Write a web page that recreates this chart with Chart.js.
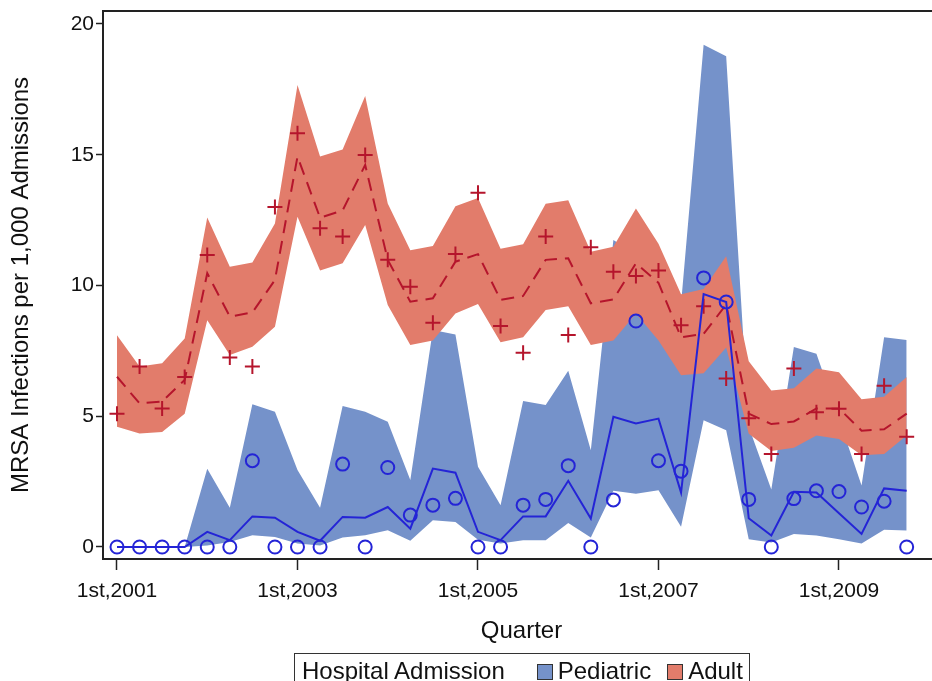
<!DOCTYPE html>
<html>
<head>
<meta charset="utf-8">
<script src="https://cdn.jsdelivr.net/npm/chart.js@4.4.1/dist/chart.umd.min.js"></script>
<style>
  html, body { margin: 0; padding: 0; background: #fff; overflow: hidden; }
  #wrap { position: relative; width: 932px; height: 681px; overflow: hidden; }
  #chart { position: absolute; left: 0; top: 0; }
  #legend {
    position: absolute; left: 294px; top: 653px; width: 456px; height: 40px;
    border: 1.5px solid #333; box-sizing: border-box;
    font-family: "Liberation Sans", Arial, sans-serif; font-size: 24px; line-height: 24px; color: #111;
    display: flex; align-items: flex-start; padding: 5px 0 0 7px; white-space: nowrap;
  }
  #legend .sw { display: inline-block; width: 14px; height: 14px; border: 1.5px solid #333; margin: 5px 5px 0 0; }
</style>
</head>
<body>
<div id="wrap">
  <canvas id="chart" width="940" height="681"></canvas>
  <div id="legend">
    <span style="margin-right:32px">Hospital Admission</span>
    <span class="sw" style="background:#7592CA"></span><span style="margin-right:16px">Pediatric</span>
    <span class="sw" style="background:#E27C6B"></span><span>Adult</span>
  </div>
</div>
<script>
// --- Data (quarter index 0 = 1st quarter 2001 ... 35 = 4th quarter 2009) ---
const tickPos = [0, 8, 16, 24, 32];
const tickLabels = ['1st,2001', '1st,2003', '1st,2005', '1st,2007', '1st,2009'];
const yTicks = [0, 5, 10, 15, 20];

const adultObs = [5.1, 6.9, 5.3, 6.5, 11.17, 7.25, 6.9, 13.0, 15.82, 12.19, 11.87, 14.99,
  10.98, 9.95, 8.58, 11.2, 13.55, 8.45, 7.43, 11.87, 8.11, 11.46, 10.53, 10.36,
  10.57, 8.48, 9.21, 6.44, 4.92, 3.56, 6.83, 5.15, 5.29, 3.56, 6.17, 4.22];
const adultMean = [6.51, 5.49, 5.56, 6.39, 10.47, 8.81, 8.97, 10.21, 14.93, 12.59, 12.87, 14.61,
  10.98, 9.38, 9.51, 10.91, 11.2, 9.45, 9.6, 10.98, 11.04, 9.32, 9.47, 10.85,
  10.1, 8.02, 8.15, 9.27, 5.1, 4.7, 4.8, 5.3, 5.3, 4.45, 4.5, 5.1];
const adultUpper = [8.1, 6.9, 7.03, 7.97, 12.6, 10.72, 10.88, 12.37, 17.67, 14.93, 15.2, 17.25,
  13.14, 11.35, 11.51, 13.03, 13.35, 11.41, 11.58, 13.13, 13.26, 11.29, 11.48, 12.94,
  11.6, 9.67, 9.87, 11.12, 7.1, 5.98, 6.07, 6.83, 6.68, 5.65, 5.75, 6.5];
const adultLower = [4.6, 4.34, 4.4, 5.1, 8.67, 7.34, 7.66, 8.42, 12.63, 10.57, 10.85, 12.31,
  9.25, 7.72, 7.9, 8.93, 9.29, 7.83, 8.02, 9.06, 9.21, 7.72, 7.9, 8.93,
  7.9, 6.57, 6.64, 7.63, 4.33, 3.67, 3.8, 4.26, 4.13, 3.51, 3.56, 4.26];

const pedObs = [0, 0, 0, 0, 0, 0, 3.3, 0, 0, 0, 3.17, 0,
  3.04, 1.22, 1.6, 1.86, 0, 0, 1.6, 1.82, 3.11, 0, 1.8, 8.64,
  3.3, 2.9, 10.29, 9.37, 1.82, 0, 1.85, 2.15, 2.12, 1.53, 1.75, 0];
const pedMean = [0, 0, 0, 0, 0.58, 0.26, 1.17, 1.12, 0.58, 0.24, 1.15, 1.12,
  1.53, 0.7, 3.0, 2.84, 0.58, 0.26, 1.17, 1.17, 2.53, 1.09, 4.98, 4.72,
  4.91, 2.08, 9.67, 9.37, 1.1, 0.44, 2.11, 2.08, 1.29, 0.5, 2.24, 2.15];
const pedUpper = [0, 0, 0, 0, 2.99, 1.5, 5.46, 5.17, 2.94, 1.5, 5.39, 5.17,
  4.79, 2.56, 8.3, 8.13, 3.07, 1.6, 5.58, 5.43, 6.74, 3.7, 11.74, 11.2,
  11.0, 9.3, 19.21, 18.77, 4.6, 2.2, 7.65, 7.39, 4.9, 2.35, 8.02, 7.92];
const pedLower = [0, 0, 0, 0, 0.06, 0.19, 0.45, 0.38, 0.13, 0.06, 0.36, 0.45,
  0.64, 0.24, 1.02, 0.96, 0.28, 0.13, 0.26, 0.26, 0.92, 0.36, 2.15, 2.04,
  2.17, 0.77, 4.85, 4.46, 0.3, 0.17, 0.5, 0.44, 0.3, 0.13, 0.66, 0.63];

// --- Helpers ---
const pts = arr => arr.map((v, i) => ({ x: i, y: v }));
const FONT = '"Liberation Sans", Arial, sans-serif';
const BLUE_FILL = '#7592CA', RED_FILL = '#E27C6B';
const BLUE_LINE = '#2424D6', RED_LINE = '#B5152C';

const band = (arr, color, order, fill) => ({
  data: pts(arr), showLine: true, borderWidth: 0, borderColor: 'transparent',
  backgroundColor: color, pointRadius: 0, fill: fill, order: order, tension: 0
});

// top border of the plot frame (right edge sits just outside the window)
const frame = {
  id: 'frame',
  afterDraw(chart) {
    const { ctx, chartArea: a } = chart;
    ctx.save();
    ctx.strokeStyle = '#222';
    ctx.lineWidth = 2;
    ctx.beginPath();
    ctx.moveTo(a.left, a.top);
    ctx.lineTo(a.right, a.top);
    ctx.lineTo(a.right, a.bottom);
    ctx.stroke();
    ctx.restore();
  }
};

new Chart(document.getElementById('chart'), {
  type: 'line',
  data: {
    datasets: [
      { data: pts(pedMean), borderColor: BLUE_LINE, borderWidth: 2, pointRadius: 0, fill: false, order: 0 },
      { data: pts(pedObs), showLine: false, pointStyle: 'circle', pointRadius: 6.5, pointBorderWidth: 2,
        pointBorderColor: BLUE_LINE, pointBackgroundColor: 'transparent', order: 1 },
      { data: pts(adultMean), borderColor: RED_LINE, borderWidth: 2, borderDash: [13, 8], pointRadius: 0, fill: false, order: 2 },
      { data: pts(adultObs), showLine: false, pointStyle: 'cross', pointRadius: 7.5, pointBorderWidth: 2,
        pointBorderColor: RED_LINE, order: 3 },
      band(adultLower, 'transparent', 6, false),
      band(adultUpper, RED_FILL, 5, '-1'),
      band(pedLower, 'transparent', 8, false),
      band(pedUpper, BLUE_FILL, 7, '-1')
    ]
  },
  options: {
    responsive: false,
    animation: false,
    layout: { autoPadding: false, padding: { top: 11, left: 0, right: 0, bottom: 0 } },
    plugins: { legend: { display: false }, tooltip: { enabled: false } },
    scales: {
      x: {
        type: 'linear', min: -0.6205, max: 36.477,
        afterBuildTicks: s => { s.ticks = tickPos.map(v => ({ value: v })); },
        afterFit: s => { s.height = 122; s.paddingLeft = 0; s.paddingRight = 0; },
        ticks: {
          callback: v => tickLabels[tickPos.indexOf(v)] || '',
          font: { family: FONT, size: 21 }, color: '#111', padding: 9,
          maxRotation: 0, autoSkip: false
        },
        grid: { drawOnChartArea: false, tickLength: 11, tickColor: '#222', tickWidth: 1.5 },
        border: { color: '#222', width: 2 },
        title: { display: true, text: 'Quarter', font: { family: FONT, size: 24 }, color: '#111',
          padding: { top: 4, bottom: 35 } }
      },
      y: {
        min: -0.459, max: 20.497,
        afterBuildTicks: s => { s.ticks = yTicks.map(v => ({ value: v })); },
        afterFit: s => { s.width = 103; s.paddingTop = 0; s.paddingBottom = 0; },
        ticks: { font: { family: FONT, size: 21 }, color: '#111', padding: 2 },
        grid: { drawOnChartArea: false, tickLength: 7, tickColor: '#222', tickWidth: 1.5 },
        border: { color: '#222', width: 2 },
        title: { display: true, text: 'MRSA Infections per 1,000 Admissions', font: { family: FONT, size: 24 },
          color: '#111', padding: { top: 7, bottom: 4 } }
      }
    }
  },
  plugins: [frame]
});
</script>
</body>
</html>
